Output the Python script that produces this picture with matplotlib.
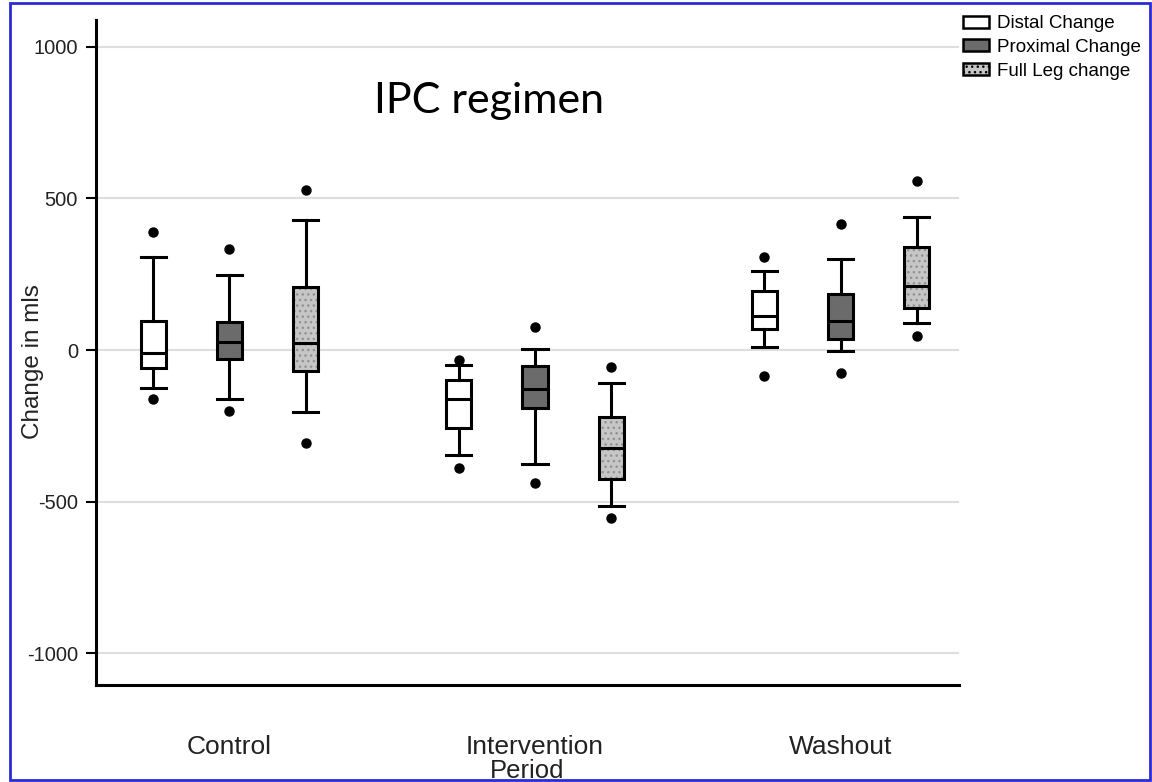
import matplotlib
matplotlib.use("Agg")
import matplotlib.pyplot as plt
from matplotlib.patches import Patch, PathPatch, Rectangle

plt.rcParams['font.family'] = ['Liberation Sans', 'DejaVu Sans']
plt.rcParams['axes.unicode_minus'] = False

# data (change in mls)
periods = ['Control', 'Intervention', 'Washout']
measures = ['Distal Change', 'Proximal Change', 'Full Leg change']

# per measure: one value per period
whislo = [[-125, -347, 11], [-160, -374, -4], [-204, -514, 88]]
q1 = [[-60, -258, 69], [-30, -192, 36], [-68, -426, 139]]
med = [[-8, -160, 113], [27, -129, 97], [25, -324, 210]]
q3 = [[97, -98, 196], [91, -54, 185], [209, -220, 339]]
whishi = [[306, -48, 261], [248, 5, 300], [430, -107, 438]]
out_lo = [[-160, -390, -85], [-202, -437, -77], [-307, -552, 47]]
out_hi = [[390, -32, 308], [333, 75, 416], [529, -57, 559]]

fills = ['white', '#6b6b6b', '#c6c6c6']
offsets = [-0.25, 0, 0.25]

fig = plt.figure(figsize=(11.52, 7.82), dpi=100)
ax = fig.add_axes([0.0833, 0.124, 0.7492, 0.850])

lw = 2.2
for m in range(3):
    stats = []
    for p in range(3):
        stats.append(dict(whislo=whislo[m][p], q1=q1[m][p], med=med[m][p],
                          q3=q3[m][p], whishi=whishi[m][p],
                          fliers=[out_lo[m][p], out_hi[m][p]]))
    pos = [p + offsets[m] for p in range(3)]
    bp = ax.bxp(stats, positions=pos, widths=0.082, patch_artist=True,
                showfliers=True, capwidths=0.082,
                boxprops=dict(facecolor=fills[m], edgecolor='black', linewidth=lw),
                medianprops=dict(color='black', linewidth=lw),
                whiskerprops=dict(color='black', linewidth=lw),
                capprops=dict(color='black', linewidth=lw),
                flierprops=dict(marker='o', markerfacecolor='black',
                                markeredgecolor='black', markersize=6.5))
    for box in bp['boxes']:
        box.set_zorder(3)
        if m == 2:
            # dotted fill with grey dots, black outline drawn on top
            box.set_hatch('...')
            box.set_edgecolor('#929292')
            box.set_linewidth(0)
            ax.add_patch(PathPatch(box.get_path(), transform=box.get_transform(),
                                   facecolor='none', edgecolor='black',
                                   linewidth=lw, zorder=3.5))
    for k in ('medians', 'whiskers', 'caps', 'fliers'):
        for a in bp[k]:
            a.set_zorder(4)

ax.set_xlim(-0.437, 2.388)
ax.set_ylim(-1104, 1087)
ax.set_yticks([-1000, -500, 0, 500, 1000])
ax.set_xticks(range(3))
ax.set_xticklabels(periods, fontsize=19, color='#222222')
ax.tick_params(axis='x', length=0, pad=36)
ax.tick_params(axis='y', length=7, width=1.5, pad=6, labelsize=14.5,
               labelcolor='#222222')
ax.yaxis.grid(True, color='#dedede', linewidth=1.5, zorder=0)
ax.set_axisbelow(True)

for s in ('top', 'right'):
    ax.spines[s].set_visible(False)
for s in ('left', 'bottom'):
    ax.spines[s].set_linewidth(2.2)

ax.set_xlabel('Period', fontsize=18.5, color='#222222', labelpad=0)
ax.set_ylabel('Change in mls', fontsize=17.5, color='#222222')
ax.yaxis.set_label_coords(-0.060, 0.487)

fig.text(489 / 1152, 1 - 101 / 782, 'IPC regimen', fontsize=31,
         family=['Lato', 'DejaVu Sans'], ha='center', va='center')

handles = [Patch(facecolor=fills[0], edgecolor='black', linewidth=1.8),
           Patch(facecolor=fills[1], edgecolor='black', linewidth=1.8),
           Patch(facecolor=fills[2], edgecolor='black', linewidth=1.8, hatch='...')]
fig.legend(handles, measures, loc='upper right', bbox_to_anchor=(1.0, 0.995),
           frameon=False, fontsize=13.5, handlelength=1.4, handleheight=0.6,
           labelspacing=0.36, handletextpad=0.4, borderaxespad=0.2)

# blue frame around the figure
fig.patches.append(Rectangle((10 / 1152, 2 / 782), 1140 / 1152, 777 / 782,
                             transform=fig.transFigure, fill=False,
                             edgecolor='#2b2bd6', linewidth=2))

fig.savefig('out.png', dpi=100)
